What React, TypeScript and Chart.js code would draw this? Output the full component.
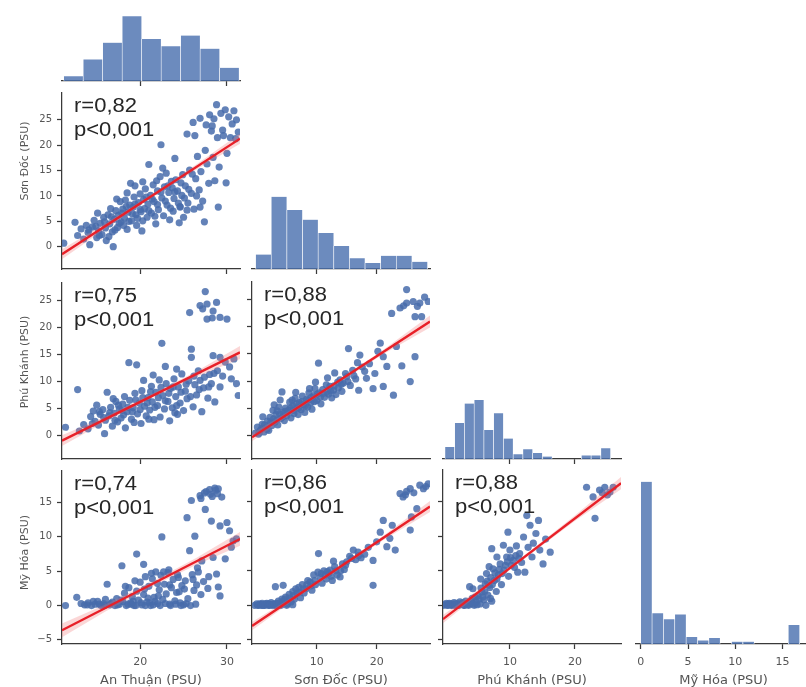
import { useEffect, useRef } from "react";
import { Chart, registerables } from "chart.js";

Chart.register(...registerables);

// ---------------- DATA ----------------
const VAR_LABELS = ["An Thuận (PSU)", "Sơn Đốc (PSU)", "Phú Khánh (PSU)", "Mỹ Hóa (PSU)"];

// axis limits per column (x) and per row (y)
const COL_LIMITS = [[11.0, 31.5], [-0.8, 28.9], [-0.3, 27.1], [-0.5, 18.0]];
const ROW_LIMITS = [[0, 0], [-4.4, 30.3], [-4.4, 28.3], [-5.6, 19.6]];
const HIST_COUNT_MAX = 147;
const X_TICKS = [[20, 30], [10, 20], [10, 20], [0, 5, 10, 15]];
const Y_TICKS = [[], [0, 5, 10, 15, 20, 25], [0, 5, 10, 15, 20, 25], [-5, 0, 5, 10, 15]];

// histograms (diagonal)
const HIST_AN_THUAN_EDGES = [11.2, 13.44, 15.69, 17.93, 20.18, 22.42, 24.67, 26.91, 29.16, 31.4];
const HIST_AN_THUAN_COUNTS = [4, 18, 32, 54, 35, 29, 38, 27, 11];
const HIST_SON_DOC_EDGES = [-0.2, 2.41, 5.02, 7.63, 10.24, 12.85, 15.45, 18.06, 20.67, 23.28, 25.89, 28.5];
const HIST_SON_DOC_COUNTS = [12, 60, 49, 41, 30, 19, 9, 5, 11, 11, 6];
const HIST_PHU_KHANH_EDGES = [0, 1.5, 3, 4.5, 6, 7.5, 9, 10.5, 12, 13.5, 15, 16.5, 18, 19.5, 21, 22.5, 24, 25.5];
const HIST_PHU_KHANH_COUNTS = [10, 30, 46, 49, 24, 38, 17, 4, 8, 5, 2, 0, 0, 0, 3, 3, 9];
const HIST_MY_HOA_EDGES = [0, 1.2, 2.4, 3.6, 4.8, 6, 7.2, 8.4, 9.6, 10.8, 12, 13.2, 14.4, 15.6, 16.8];
const HIST_MY_HOA_COUNTS = [137, 26, 21, 25, 6, 3, 5, 0, 2, 2, 0, 0, 0, 16];

// scatter points [x, y]
const SCATTER_ANTHUAN_SONDOC = [
  [11.2,0.7],[12.5,4.8],[12.8,2.2],[13.2,3.5],[13.5,1.5],[13.8,4.2],[14.0,2.8],[14.2,0.4],[14.5,3.9],[14.7,5.2],
  [15.0,1.8],[15.2,3.1],[15.4,4.6],[15.6,2.4],[15.8,5.8],[16.0,3.7],[16.1,1.2],[16.3,6.3],[16.5,4.5],[16.8,2.9],
  [16.9,0.0],[17.0,5.4],[17.2,7.1],[17.4,3.8],[17.5,6.2],[17.7,8.9],[17.8,4.9],[18.0,7.4],[18.2,5.6],[18.3,9.2],
  [18.5,3.4],[18.6,6.8],[18.8,8.2],[18.9,12.5],[19.0,5.1],[19.2,7.8],[19.3,9.8],[19.5,6.3],[19.6,4.2],[19.8,8.7],
  [20.0,10.4],[20.1,6.9],[20.2,3.1],[20.4,9.3],[20.5,7.5],[20.6,11.4],[20.8,5.8],[20.9,8.4],[21.0,16.2],[21.2,10.1],
  [21.3,6.6],[21.5,12.2],[21.6,8.9],[21.8,4.5],[22.0,11.0],[22.1,7.3],[22.3,13.8],[22.4,20.1],[22.5,9.6],[22.7,6.1],
  [22.8,11.8],[23.0,14.5],[23.1,8.2],[23.3,10.7],[23.4,5.3],[23.6,12.9],[23.8,7.0],[23.9,9.5],[24.1,13.2],[24.3,11.0],
  [24.5,4.7],[24.6,7.9],[24.8,10.1],[24.9,14.2],[25.2,12.0],[25.4,22.2],[25.5,8.6],[25.7,15.1],[25.9,10.5],[26.1,24.5],
  [26.2,7.4],[26.4,13.4],[26.3,21.9],[26.6,17.8],[26.8,11.2],[27.0,14.8],[27.2,9.0],[27.4,4.9],[27.5,19.0],[27.7,16.3],
  [27.9,12.5],[28.0,26.0],[28.2,22.8],[28.4,17.6],[28.5,25.2],[28.6,13.0],[28.8,28.0],[28.9,21.5],[29.0,7.8],[29.1,15.7],
  [29.3,26.3],[29.5,23.0],[29.6,21.9],[29.8,27.0],[30.0,18.4],[30.2,25.6],[30.4,21.5],[30.6,24.2],[30.8,26.8],[31.0,21.3],
  [31.1,25.0],[31.3,22.6],[26.9,25.3],[27.6,24.0],[28.3,23.8],[29.9,12.6],[24.0,17.4],[22.6,15.5],[25.0,5.8],[19.4,12.0],
  [25.4,7.2],[26.9,7.8],[24.6,7.8],
  [14.1,3.3],[14.9,4.0],[15.3,2.2],[15.9,4.9],[16.4,2.0],[16.7,5.9],[17.1,3.3],[17.6,4.6],[17.9,6.6],[18.1,4.2],
  [18.4,7.9],[18.7,5.0],[19.1,6.5],[19.4,8.4],[19.7,5.6],[20.0,7.3],[20.3,5.1],[20.7,9.8],[21.0,7.1],[21.4,9.4],
  [21.7,6.0],[22.0,8.3],[22.4,10.8],[22.9,9.0],[23.2,12.0],[23.5,7.6],[24.0,10.8],[24.4,8.6],[24.7,12.6],[25.1,9.6],
  [25.6,11.3],[26.0,14.3],[26.5,10.0],[23.7,11.6],[21.9,13.0],[20.3,12.8],[18.5,10.6],[17.3,9.4],[16.6,7.5],[15.1,6.6],
];
const SCATTER_ANTHUAN_PHUKHANH = [
  [11.4,1.5],[12.8,8.5],[13.0,0.8],[13.5,2.0],[14.0,1.2],[14.3,3.5],[14.6,4.5],[14.8,2.6],[15.0,5.6],[15.2,1.9],
  [15.4,3.9],[15.7,4.8],[15.9,0.3],[16.0,2.8],[16.2,8.0],[16.4,3.6],[16.6,5.2],[16.8,1.7],[17.0,4.1],[17.2,6.3],
  [17.4,2.5],[17.6,4.9],[17.8,3.2],[18.0,5.8],[18.2,7.2],[18.3,1.4],[18.5,4.4],[18.7,13.5],[18.8,6.5],[19.0,3.0],
  [19.2,5.1],[19.4,7.8],[19.6,13.1],[19.7,4.0],[19.9,6.0],[20.1,2.2],[20.2,8.3],[20.4,10.2],[20.5,5.4],[20.7,3.6],
  [20.9,7.0],[21.1,4.7],[21.3,9.1],[21.4,6.2],[21.6,2.9],[21.8,8.0],[22.0,5.5],[22.2,10.3],[22.3,3.4],[22.5,17.1],
  [22.6,7.4],[22.8,4.9],[23.0,9.6],[23.2,6.3],[23.4,2.7],[23.5,8.7],[23.7,5.1],[23.9,10.5],[24.1,7.2],[24.3,3.9],
  [24.4,9.0],[24.6,6.0],[24.8,11.4],[25.0,4.6],[25.2,8.2],[25.4,6.8],[25.6,10.1],[25.7,22.8],[25.9,16.0],[25.9,14.5],
  [26.1,5.3],[26.3,9.4],[26.5,7.5],[26.7,12.0],[26.9,10.2],[26.9,24.1],[27.1,4.4],[27.3,8.8],[27.5,26.7],[27.7,24.4],
  [27.7,21.6],[27.8,6.9],[28.0,11.3],[28.2,9.6],[28.4,23.1],[28.4,14.8],[28.6,6.2],[28.8,24.7],[28.9,12.0],[29.2,21.9],
  [29.2,14.5],[29.2,9.0],[29.5,11.0],[29.8,13.6],[30.0,21.6],[30.3,12.7],[30.5,10.5],[31.1,9.6],[31.3,7.4],[30.8,14.2],
  [28.3,21.8],[27.2,23.5],[24.2,12.3],[22.9,12.8],[21.5,11.2],
  [14.5,2.2],[15.3,4.4],[15.8,3.3],[16.5,4.2],[17.1,2.8],[17.5,5.6],[18.1,3.8],[18.6,5.2],[19.1,4.4],[19.5,6.6],
  [20.0,4.8],[20.3,7.0],[20.8,6.0],[21.2,8.1],[21.7,5.2],[22.1,7.0],[22.4,8.9],[22.9,6.4],[23.3,7.8],[23.8,9.0],
  [24.2,5.5],[24.7,8.0],[25.3,9.5],[25.8,7.2],[26.2,11.0],[26.8,8.5],[27.4,10.8],[27.9,9.0],[28.5,11.5],[24.0,4.2],
  [21.0,3.0],[19.3,2.4],[17.9,4.6],[16.9,6.8],
];
const SCATTER_ANTHUAN_MYHOA = [
  [11.4,0.0],[12.7,1.2],[13.2,0.3],[13.6,0.1],[14.0,0.4],[14.4,0.0],[14.8,0.2],[15.1,0.6],[15.5,0.0],[15.8,0.3],
  [16.0,0.9],[16.2,3.1],[16.5,0.1],[16.8,0.5],[17.1,0.0],[17.3,1.0],[17.6,0.2],[17.9,5.8],[18.0,0.6],[18.2,1.8],
  [18.4,0.0],[18.7,2.6],[18.9,0.4],[19.1,1.3],[19.3,0.0],[19.6,7.5],[19.6,2.1],[19.8,0.8],[20.0,3.4],[20.2,0.1],
  [20.4,6.0],[20.4,1.6],[20.6,4.2],[20.8,0.5],[21.0,2.8],[21.2,0.0],[21.4,3.9],[21.6,1.2],[21.8,4.9],[22.0,0.3],
  [22.2,2.3],[22.4,4.4],[22.5,10.0],[22.6,0.9],[22.8,3.1],[23.0,1.7],[23.2,4.8],[23.4,0.2],[23.6,2.6],[23.8,3.8],
  [24.0,0.7],[24.2,1.9],[24.4,4.1],[24.6,0.4],[24.8,2.9],[25.0,0.1],[25.2,3.6],[25.4,12.8],[25.5,1.0],[25.7,8.0],
  [25.9,15.3],[26.0,4.5],[26.2,2.2],[26.3,10.1],[26.5,3.0],[26.7,4.9],[26.9,16.0],[27.0,1.6],[27.1,6.5],[27.3,3.5],
  [27.5,14.0],[27.6,16.6],[27.8,2.5],[28.0,16.9],[28.2,12.3],[28.3,15.9],[28.4,7.0],[28.6,17.1],[28.8,4.6],[28.9,16.3],
  [29.0,2.7],[29.2,11.6],[29.2,1.4],[29.4,15.8],[29.8,6.8],[30.0,12.1],[30.3,10.9],[30.5,8.5],[30.7,9.4],[31.1,9.7],
  [27.4,16.4],[28.7,16.8],[26.1,3.8],[24.5,2.0],[23.3,5.2],[21.7,0.6],[20.9,1.1],[19.0,0.2],[22.1,1.4],
  [13.9,0.1],[14.6,0.6],[15.3,0.2],[15.9,0.0],[16.6,0.3],[17.4,0.1],[17.8,0.8],[18.6,0.2],[19.2,0.6],[19.5,0.0],
  [20.1,0.4],[20.6,0.0],[21.1,0.4],[21.5,0.1],[22.3,0.0],[22.9,0.3],[23.5,0.0],[24.1,0.2],[24.7,0.0],[25.3,0.3],
  [25.8,0.0],[26.4,0.2],[18.3,2.8],[19.4,3.6],[20.5,2.4],[21.3,4.7],[22.0,3.2],[22.7,4.9],[23.4,3.0],[24.3,4.5],
  [25.1,2.4],[26.6,5.5],[27.9,4.2],[28.1,16.2],[27.0,15.6],[29.0,17.0],
];
const SCATTER_SONDOC_PHUKHANH = [
  [-0.2,0.4],[0.1,1.5],[0.3,0.2],[0.6,0.9],[0.9,2.0],[1.2,0.6],[1.5,1.4],[1.8,2.6],[2.0,0.9],[2.2,3.3],
  [2.5,1.8],[2.7,4.6],[3.0,2.4],[3.2,3.8],[3.5,1.9],[3.7,5.2],[3.9,6.5],[4.0,3.1],[4.2,8.0],[4.4,4.2],
  [4.6,2.7],[4.8,5.0],[5.0,3.6],[5.3,4.6],[5.5,6.1],[5.7,3.2],[6.0,5.4],[6.2,4.0],[6.4,6.8],[6.7,5.0],
  [6.9,3.8],[7.1,6.0],[7.4,4.7],[7.6,7.2],[7.8,5.6],[8.0,4.2],[8.3,6.6],[8.5,5.2],[8.7,7.8],[9.0,6.0],
  [9.2,4.8],[9.5,7.3],[9.7,8.6],[10.0,6.4],[10.3,13.3],[10.4,7.8],[10.7,5.8],[11.0,8.4],[11.3,7.0],[11.6,9.3],
  [12.0,7.6],[12.2,9.0],[12.5,6.9],[12.8,8.3],[13.2,7.5],[13.5,9.8],[13.9,10.2],[14.2,8.1],[14.4,9.6],[14.8,11.4],
  [15.3,16.0],[15.6,9.2],[16.0,12.0],[16.5,10.4],[17.0,8.3],[17.2,14.8],[17.6,12.6],[18.3,10.5],[18.8,13.2],[19.4,8.6],
  [19.7,11.4],[20.2,15.5],[20.6,17.0],[21.1,14.5],[21.1,9.0],[21.7,12.7],[22.5,22.5],[22.8,7.4],[23.3,16.4],[23.9,23.5],
  [24.2,12.8],[25.0,26.9],[25.0,24.4],[25.6,9.9],[26.1,24.7],[26.4,21.9],[26.4,14.5],[27.2,24.4],[27.5,21.9],[28.0,25.5],
  [28.6,24.7],[26.8,23.8],[24.5,23.9],[15.0,10.8],[13.0,11.5],[11.8,10.6],[9.8,9.8],[6.5,7.9],[2.9,5.6],[1.0,3.4],
  [16.8,13.4],[18.0,11.8],
  [0.4,0.5],[0.8,1.2],[1.3,1.9],[1.7,1.1],[2.3,2.3],[2.8,3.0],[3.3,2.8],[3.8,3.9],[4.3,3.4],[4.7,4.4],
  [5.1,4.2],[5.6,5.0],[6.1,4.6],[6.6,5.8],[7.0,5.0],[7.5,6.2],[8.1,5.5],[8.6,6.5],[9.1,7.0],[9.6,6.2],
  [10.1,7.6],[10.6,7.0],[11.1,7.7],[11.7,8.0],[12.3,8.2],[12.9,9.1],[13.6,8.7],[14.1,9.4],[15.2,9.9],[16.2,11.0],
  [3.4,4.5],[5.9,6.5],[8.8,8.6],
];
const SCATTER_SONDOC_MYHOA = [
  [-0.3,0.0],[0.0,0.2],[0.3,0.0],[0.6,0.1],[0.9,0.3],[1.2,0.0],[1.5,0.2],[1.8,0.1],[2.1,0.0],[2.4,0.4],
  [2.7,0.1],[3.0,0.0],[3.1,2.7],[3.3,0.3],[3.6,0.6],[3.9,0.1],[4.2,0.9],[4.4,2.9],[4.5,0.3],[4.8,1.2],
  [5.1,0.2],[5.4,1.6],[5.7,0.5],[6.0,2.0],[6.3,0.9],[6.7,1.7],[7.0,2.6],[7.3,1.1],[7.6,3.0],[7.9,1.8],
  [8.2,2.4],[8.5,3.6],[8.9,3.4],[9.2,2.2],[9.5,4.4],[9.8,3.0],[10.3,7.5],[10.6,4.1],[10.9,3.2],[11.2,5.0],
  [11.6,3.8],[12.0,4.6],[12.2,5.1],[12.6,3.6],[13.0,5.6],[13.4,4.4],[13.9,4.1],[14.3,6.0],[14.6,5.2],[15.0,6.3],
  [15.5,7.1],[16.1,8.0],[16.5,6.6],[16.9,7.7],[17.4,6.9],[18.0,7.4],[18.6,8.4],[19.4,2.9],[19.4,6.5],[20.0,9.2],
  [20.6,10.6],[21.1,12.3],[21.7,8.5],[22.2,9.7],[22.6,11.6],[23.1,8.0],[23.9,16.2],[24.4,15.7],[25.0,16.5],[25.6,10.9],
  [25.6,16.9],[25.8,12.8],[26.2,16.3],[26.7,14.0],[27.2,17.4],[27.8,16.9],[28.6,17.6],[28.2,17.2],[24.8,16.0],[12.8,6.4],
  [11.4,4.4],[14.0,5.0],[5.0,0.0],[6.0,0.1],[1.0,0.0],[2.0,0.2],
  [0.15,0.0],[0.45,0.2],[0.75,0.0],[1.05,0.1],[1.35,0.0],[1.65,0.3],[1.95,0.0],[2.25,0.1],[2.55,0.0],[2.85,0.2],
  [3.15,0.0],[3.45,0.1],[3.75,0.3],[4.05,0.0],[4.35,0.5],[4.65,0.9],[5.25,0.7],[5.55,1.1],[6.15,1.4],[6.5,2.4],
  [7.15,1.9],[7.75,2.4],[8.35,3.0],[9.0,2.8],[9.65,3.6],[10.2,4.8],[10.75,4.6],[11.8,4.9],[12.4,4.2],[13.2,5.0],
  [14.8,5.8],[15.8,6.8],[17.0,7.2],
];
const SCATTER_PHUKHANH_MYHOA = [
  [-0.2,0.0],[0.2,0.3],[0.5,0.0],[0.8,0.2],[1.1,0.0],[1.4,0.4],[1.7,0.1],[2.0,0.0],[2.3,0.5],[2.6,0.2],
  [2.9,0.0],[3.2,0.6],[3.5,0.1],[3.8,2.7],[3.9,0.3],[4.2,1.0],[4.3,2.4],[4.5,0.0],[4.8,0.5],[5.1,1.4],
  [5.4,0.2],[5.7,1.9],[6.0,0.8],[6.2,3.1],[6.4,4.6],[6.6,1.5],[6.9,2.6],[7.2,8.2],[7.2,0.6],[7.4,5.3],
  [7.6,3.6],[7.9,2.0],[8.2,4.4],[8.5,6.0],[8.7,3.0],[9.0,8.7],[9.1,5.1],[9.5,7.0],[9.7,10.6],[9.8,4.2],
  [10.2,5.8],[10.5,6.5],[10.9,7.2],[11.2,4.8],[11.5,7.5],[12.1,9.9],[12.3,4.8],[12.6,13.0],[12.8,8.4],[13.1,11.6],
  [13.6,9.0],[14.0,10.4],[14.4,12.3],[14.6,8.0],[15.1,6.0],[15.5,9.6],[16.2,7.7],[21.8,17.1],[22.8,15.7],[23.1,12.6],
  [23.8,16.7],[24.6,17.1],[25.0,16.0],[25.4,16.4],[25.9,17.1],[24.2,16.3],[8.0,7.0],[6.8,5.6],[5.5,3.8],[3.0,0.0],
  [1.5,0.0],[6.3,0.0],[7.0,1.0],[10.0,8.0],[11.8,6.2],[13.4,7.0],
  [0.0,0.1],[0.35,0.0],[0.65,0.3],[0.95,0.0],[1.25,0.2],[1.55,0.1],[1.85,0.3],[2.15,0.0],[2.45,0.2],[2.75,0.4],
  [3.05,0.1],[3.35,0.3],[3.65,0.0],[4.0,0.6],[4.35,0.2],[4.65,1.2],[4.95,0.1],[5.25,0.9],[5.55,2.5],[5.85,1.2],
  [6.1,2.0],[6.5,3.5],[6.75,2.9],[7.05,4.0],[7.3,3.0],[7.7,4.7],[8.0,3.8],[8.35,5.2],[8.8,4.6],[9.3,5.8],
  [9.6,6.3],[10.1,6.9],[10.7,5.5],[11.0,8.6],[11.4,6.8],
];

// regression lines (endpoints) and confidence bands [x, lower, upper]
const REG_ANTHUAN_SONDOC = [[11.0, -1.5], [31.5, 21.3]];
const BAND_ANTHUAN_SONDOC = [[11.0,-2.5,-0.5],[16.0,3.56,4.56],[21.5,9.83,10.53],[26.5,15.24,16.24],[31.5,20.3,22.3]];
const REG_ANTHUAN_PHUKHANH = [[11.0, -1.0], [31.5, 15.4]];
const BAND_ANTHUAN_PHUKHANH = [[11.0,-2.0,0.0],[16.0,2.5,3.5],[21.5,7.05,7.75],[26.5,10.9,11.9],[31.5,14.2,16.6]];
const REG_ANTHUAN_MYHOA = [[11.0, -3.6], [31.5, 9.7]];
const BAND_ANTHUAN_MYHOA = [[11.0,-4.6,-2.6],[16.0,-0.86,0.14],[21.5,2.86,3.56],[26.5,5.96,6.96],[31.5,8.7,10.7]];
const REG_SONDOC_PHUKHANH = [[-0.8, -0.4], [28.9, 21.0]];
const BAND_SONDOC_PHUKHANH = [[-0.8,-1.1,0.3],[6.0,4.1,4.9],[13.0,9.2,9.8],[21.0,14.9,15.7],[28.9,19.9,22.1]];
const REG_SONDOC_MYHOA = [[-0.8, -3.0], [28.9, 14.3]];
const BAND_SONDOC_MYHOA = [[-0.8,-3.6,-2.4],[6.0,0.66,1.26],[13.0,4.75,5.25],[21.0,9.4,10.0],[28.9,13.5,15.1]];
const REG_PHUKHANH_MYHOA = [[-0.3, -2.0], [27.1, 17.7]];
const BAND_PHUKHANH_MYHOA = [[-0.3,-2.6,-1.4],[6.0,2.23,2.83],[13.0,7.3,7.8],[20.0,12.2,13.0],[27.1,16.8,18.6]];

const STATS_ANTHUAN_SONDOC = ["r=0,82", "p<0,001"];
const STATS_ANTHUAN_PHUKHANH = ["r=0,75", "p<0,001"];
const STATS_ANTHUAN_MYHOA = ["r=0,74", "p<0,001"];
const STATS_SONDOC_PHUKHANH = ["r=0,88", "p<0,001"];
const STATS_SONDOC_MYHOA = ["r=0,86", "p<0,001"];
const STATS_PHUKHANH_MYHOA = ["r=0,88", "p<0,001"];

// ---------------- LAYOUT / STYLE ----------------
const COL_PX = [[62, 240], [252, 430], [443, 621], [636, 811]];
const ROW_PX = [[-95, 81], [92, 269], [282, 459], [470, 644]];
const LEFT_RESERVE = 60;
const BOTTOM_RESERVE = 45;
const PAD_TOP = 10;
const PAD_RIGHT = 10;
const Y_TITLE_SHIFT = [0, -20, -9, -5];

const SPINE = "#3a3a3a";
const TICK_TXT = "#555555";
const FONT = "'DejaVu Sans', 'Noto Sans', sans-serif";
const POINT_COLOR = "rgba(72,108,172,0.85)";
const BAR_COLOR = "rgba(76,114,176,0.82)";
const LINE_COLOR = "rgb(232,32,40)";
const BAND_COLOR = "rgba(240,110,110,0.28)";

const fmt = (v: number) => (v < 0 ? "\u2212" + Math.abs(v) : String(v));

type Panel =
  | { kind: "hist"; row: number; col: number; edges: number[]; counts: number[] }
  | { kind: "scatter"; row: number; col: number; points: number[][]; reg: number[][]; band: number[][]; stats: string[] };

const PANELS: Panel[] = [
  { kind: "hist", row: 0, col: 0, edges: HIST_AN_THUAN_EDGES, counts: HIST_AN_THUAN_COUNTS },
  { kind: "scatter", row: 1, col: 0, points: SCATTER_ANTHUAN_SONDOC, reg: REG_ANTHUAN_SONDOC, band: BAND_ANTHUAN_SONDOC, stats: STATS_ANTHUAN_SONDOC },
  { kind: "hist", row: 1, col: 1, edges: HIST_SON_DOC_EDGES, counts: HIST_SON_DOC_COUNTS },
  { kind: "scatter", row: 2, col: 0, points: SCATTER_ANTHUAN_PHUKHANH, reg: REG_ANTHUAN_PHUKHANH, band: BAND_ANTHUAN_PHUKHANH, stats: STATS_ANTHUAN_PHUKHANH },
  { kind: "scatter", row: 2, col: 1, points: SCATTER_SONDOC_PHUKHANH, reg: REG_SONDOC_PHUKHANH, band: BAND_SONDOC_PHUKHANH, stats: STATS_SONDOC_PHUKHANH },
  { kind: "hist", row: 2, col: 2, edges: HIST_PHU_KHANH_EDGES, counts: HIST_PHU_KHANH_COUNTS },
  { kind: "scatter", row: 3, col: 0, points: SCATTER_ANTHUAN_MYHOA, reg: REG_ANTHUAN_MYHOA, band: BAND_ANTHUAN_MYHOA, stats: STATS_ANTHUAN_MYHOA },
  { kind: "scatter", row: 3, col: 1, points: SCATTER_SONDOC_MYHOA, reg: REG_SONDOC_MYHOA, band: BAND_SONDOC_MYHOA, stats: STATS_SONDOC_MYHOA },
  { kind: "scatter", row: 3, col: 2, points: SCATTER_PHUKHANH_MYHOA, reg: REG_PHUKHANH_MYHOA, band: BAND_PHUKHANH_MYHOA, stats: STATS_PHUKHANH_MYHOA },
  { kind: "hist", row: 3, col: 3, edges: HIST_MY_HOA_EDGES, counts: HIST_MY_HOA_COUNTS },
];

function geom(p: Panel) {
  const [l, r] = COL_PX[p.col];
  const [t, b] = ROW_PX[p.row];
  return {
    x: l - LEFT_RESERVE,
    y: t - PAD_TOP,
    w: Math.round(r - l) + LEFT_RESERVE + PAD_RIGHT,
    h: Math.round(b - t) + PAD_TOP + BOTTOM_RESERVE,
  };
}

const panelText = {
  id: "panelText",
  afterDatasetsDraw(chart: any, _args: any, opts: any) {
    if (!opts || !opts.lines) return;
    const { ctx, chartArea } = chart;
    ctx.save();
    ctx.fillStyle = "#262626";
    ctx.font = "20px 'Liberation Sans', Arial, sans-serif";
    ctx.textAlign = "left";
    ctx.textBaseline = "alphabetic";
    opts.lines.forEach((t: string, i: number) => {
      ctx.save();
      ctx.translate(chartArea.left + 12, chartArea.top + 19 + i * 24);
      ctx.scale(1.1, 1);
      ctx.fillText(t, 0, 0);
      ctx.restore();
    });
    ctx.restore();
  },
  afterDraw(chart: any, _args: any, opts: any) {
    if (!opts || !opts.yTitle) return;
    const { ctx, chartArea } = chart;
    ctx.save();
    ctx.fillStyle = TICK_TXT;
    ctx.font = `11px ${FONT}`;
    ctx.textAlign = "center";
    ctx.textBaseline = "middle";
    ctx.translate(chartArea.left - 37, (chartArea.top + chartArea.bottom) / 2 + opts.shift);
    ctx.rotate(-Math.PI / 2);
    ctx.fillText(opts.yTitle, 0, 0);
    ctx.restore();
  },
};

function xAxis(col: number, labels: boolean) {
  const [min, max] = COL_LIMITS[col];
  return {
    type: "linear",
    position: "bottom",
    min,
    max,
    offset: false,
    afterBuildTicks: (s: any) => {
      s.ticks = X_TICKS[col].map((value) => ({ value }));
    },
    afterFit: (s: any) => {
      s.height = BOTTOM_RESERVE;
    },
    border: { display: true, color: SPINE, width: 1.25 },
    grid: { display: true, offset: false, drawOnChartArea: false, drawTicks: true, tickLength: 5, tickWidth: 1.25, tickColor: SPINE, color: SPINE },
    ticks: { display: labels, autoSkip: false, maxRotation: 0, padding: 7, color: TICK_TXT, font: { family: FONT, size: 11 }, callback: (v: any) => fmt(Number(v)) },
    title: { display: labels, text: VAR_LABELS[col], color: TICK_TXT, font: { family: FONT, size: 13 }, padding: { top: 0, bottom: 1 } },
  };
}

function yAxisScatter(row: number, labels: boolean) {
  const [min, max] = ROW_LIMITS[row];
  return {
    type: "linear",
    position: "left",
    min,
    max,
    afterBuildTicks: (s: any) => {
      s.ticks = Y_TICKS[row].map((value) => ({ value }));
    },
    afterFit: (s: any) => {
      s.width = LEFT_RESERVE;
    },
    border: { display: true, color: SPINE, width: 1.25 },
    grid: { display: true, drawOnChartArea: false, drawTicks: true, tickLength: 5, tickWidth: 1.25, tickColor: SPINE, color: SPINE },
    ticks: { display: labels, autoSkip: false, padding: 5, color: TICK_TXT, font: { family: FONT, size: 10 }, callback: (v: any) => fmt(Number(v)) },
  };
}

function yAxisHist() {
  return {
    type: "linear",
    position: "left",
    min: 0,
    max: HIST_COUNT_MAX,
    afterFit: (s: any) => {
      s.width = LEFT_RESERVE;
    },
    border: { display: false },
    grid: { display: false },
    ticks: { display: false },
  };
}

function buildConfig(p: Panel): any {
  const common = {
    animation: false,
    responsive: false,
    maintainAspectRatio: false,
    devicePixelRatio: 1,
    events: [],
    layout: { padding: { top: PAD_TOP, right: PAD_RIGHT, left: 0, bottom: 0 } },
  };
  const showX = p.row === 3;
  if (p.kind === "hist") {
    const data = p.counts.map((c, i) => ({ x: (p.edges[i] + p.edges[i + 1]) / 2, y: c }));
    return {
      type: "bar",
      data: {
        datasets: [
          {
            data,
            backgroundColor: BAR_COLOR,
            borderColor: "#ffffff",
            borderWidth: { left: 0.6, right: 0.6, top: 0, bottom: 0 },
            borderSkipped: false,
            barPercentage: 1,
            categoryPercentage: 1,
          },
        ],
      },
      options: {
        ...common,
        scales: { x: xAxis(p.col, showX), y: yAxisHist() },
        plugins: { legend: { display: false }, tooltip: { enabled: false }, panelText: {} },
      },
      plugins: [panelText],
    };
  }
  return {
    type: "scatter",
    data: {
      datasets: [
        {
          data: p.points.map(([x, y]) => ({ x, y })),
          backgroundColor: POINT_COLOR,
          borderColor: "rgba(0,0,0,0)",
          borderWidth: 0,
          pointRadius: 3.6,
          pointBorderWidth: 0,
          order: 3,
        },
        {
          type: "line",
          data: p.band.map((b) => ({ x: b[0], y: b[1] })),
          borderWidth: 0,
          borderColor: "rgba(0,0,0,0)",
          pointRadius: 0,
          fill: false,
          tension: 0,
          order: 2,
        },
        {
          type: "line",
          data: p.band.map((b) => ({ x: b[0], y: b[2] })),
          borderWidth: 0,
          borderColor: "rgba(0,0,0,0)",
          backgroundColor: BAND_COLOR,
          pointRadius: 0,
          fill: "-1",
          tension: 0,
          order: 2,
        },
        {
          type: "line",
          data: p.reg.map(([x, y]) => ({ x, y })),
          borderColor: LINE_COLOR,
          borderWidth: 2.4,
          pointRadius: 0,
          fill: false,
          tension: 0,
          order: 1,
        },
      ],
    },
    options: {
      ...common,
      scales: { x: xAxis(p.col, showX), y: yAxisScatter(p.row, p.col === 0) },
      plugins: {
        legend: { display: false },
        tooltip: { enabled: false },
        filler: { propagate: false },
        panelText: {
          lines: p.stats,
          yTitle: p.col === 0 ? VAR_LABELS[p.row] : null,
          shift: Y_TITLE_SHIFT[p.row],
        },
      },
    },
    plugins: [panelText],
  };
}

export default function App() {
  const refs = useRef<(HTMLCanvasElement | null)[]>([]);
  useEffect(() => {
    const charts = PANELS.map((p, i) => new Chart(refs.current[i] as HTMLCanvasElement, buildConfig(p)));
    return () => charts.forEach((c) => c.destroy());
  }, []);
  return (
    <div style={{ position: "absolute", left: 0, top: 0, width: 806, height: 687, overflow: "hidden", background: "#ffffff" }}>
      {PANELS.map((p, i) => {
        const g = geom(p);
        return (
          <canvas
            key={i}
            ref={(el) => {
              refs.current[i] = el;
            }}
            width={g.w}
            height={g.h}
            style={{ position: "absolute", left: g.x, top: g.y, width: g.w, height: g.h }}
          />
        );
      })}
    </div>
  );
}
